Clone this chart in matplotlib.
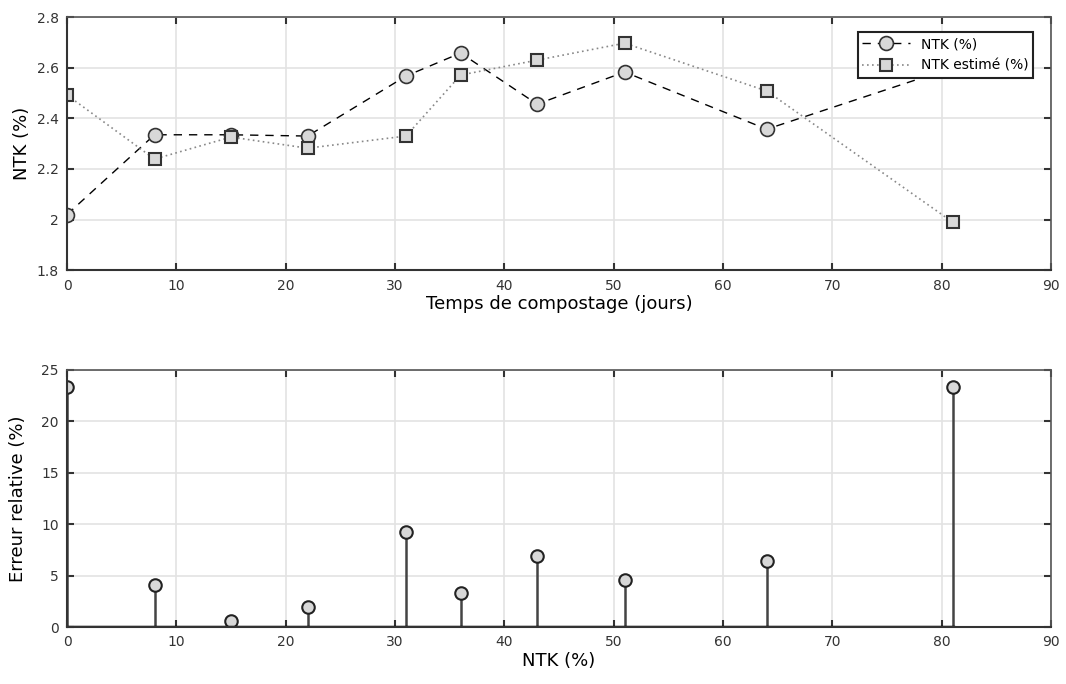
import numpy as np
import matplotlib.pyplot as plt

jours = [0, 8, 15, 22, 31, 36, 43, 51, 64, 81]
ntk = [2.02, 2.335, 2.335, 2.33, 2.567, 2.658, 2.456, 2.583, 2.357, 2.60]
ntk_est = [2.492, 2.239, 2.326, 2.282, 2.33, 2.571, 2.63, 2.697, 2.508, 1.99]
erreur = [23.3, 4.1, 0.6, 1.9, 9.2, 3.3, 6.9, 4.6, 6.4, 23.3]

xticks = [0, 10, 20, 30, 40, 50, 60, 70, 80, 90]

fig = plt.figure(figsize=(10.66, 6.84), dpi=100)
ax1 = fig.add_axes([0.0629, 0.605, 0.923, 0.370])
ax2 = fig.add_axes([0.0629, 0.0833, 0.923, 0.376])


def style(ax):
    ax.grid(True, color='#e3e3e3', linewidth=1.2)
    ax.set_axisbelow(True)
    ax.tick_params(direction='in', top=True, right=True, length=5, width=1.5,
                   labelsize=10, colors='#333333', pad=6)
    for s in ['left', 'bottom']:
        ax.spines[s].set_color('#333333')
        ax.spines[s].set_linewidth(1.5)
    for s in ['top', 'right']:
        ax.spines[s].set_color('#555555')
        ax.spines[s].set_linewidth(1.2)
    ax.set_xlim(0, 90)
    ax.set_xticks(xticks)


style(ax1)
ax1.plot(jours, ntk, color='black', linestyle=(0, (6, 5)), linewidth=1,
         marker='o', markersize=10, markerfacecolor='#d8d8d8',
         markeredgecolor='#333333', markeredgewidth=1.2, label='NTK (%)')
ax1.plot(jours, ntk_est, color='#888888', linestyle=(0, (1, 2)), linewidth=1.2,
         marker='s', markersize=9, markerfacecolor='#d8d8d8',
         markeredgecolor='#333333', markeredgewidth=1.5, label='NTK estimé (%)')
ax1.set_ylim(1.8, 2.8)
ax1.set_yticks([1.8, 2, 2.2, 2.4, 2.6, 2.8])
ax1.set_yticklabels(['1.8', '2', '2.2', '2.4', '2.6', '2.8'])
ax1.set_xlabel('Temps de compostage (jours)', fontsize=13, labelpad=2)
ax1.set_ylabel('NTK (%)', fontsize=13, labelpad=4)
leg = ax1.legend(loc='upper right', bbox_to_anchor=(0.982, 0.94), fontsize=10,
                 frameon=True, fancybox=False, framealpha=1, borderpad=0.35,
                 handlelength=3.4, labelspacing=0.55, borderaxespad=0)
leg.get_frame().set_edgecolor('#222222')
leg.get_frame().set_linewidth(1.5)
leg.set_zorder(10)

style(ax2)
ml, sl, bl = ax2.stem(jours, erreur, basefmt='k-')
plt.setp(sl, color='#444444', linewidth=1.8)
plt.setp(ml, marker='o', markersize=9, markerfacecolor='#d8d8d8',
         markeredgecolor='#222222', markeredgewidth=1.5)
plt.setp(bl, color='black', linewidth=2.5)
ax2.set_ylim(0, 25)
ax2.set_yticks([0, 5, 10, 15, 20, 25])
ax2.set_xlabel('NTK (%)', fontsize=13, labelpad=2)
ax2.set_ylabel('Erreur relative (%)', fontsize=13, labelpad=10)

fig.savefig('out.png', dpi=100)
